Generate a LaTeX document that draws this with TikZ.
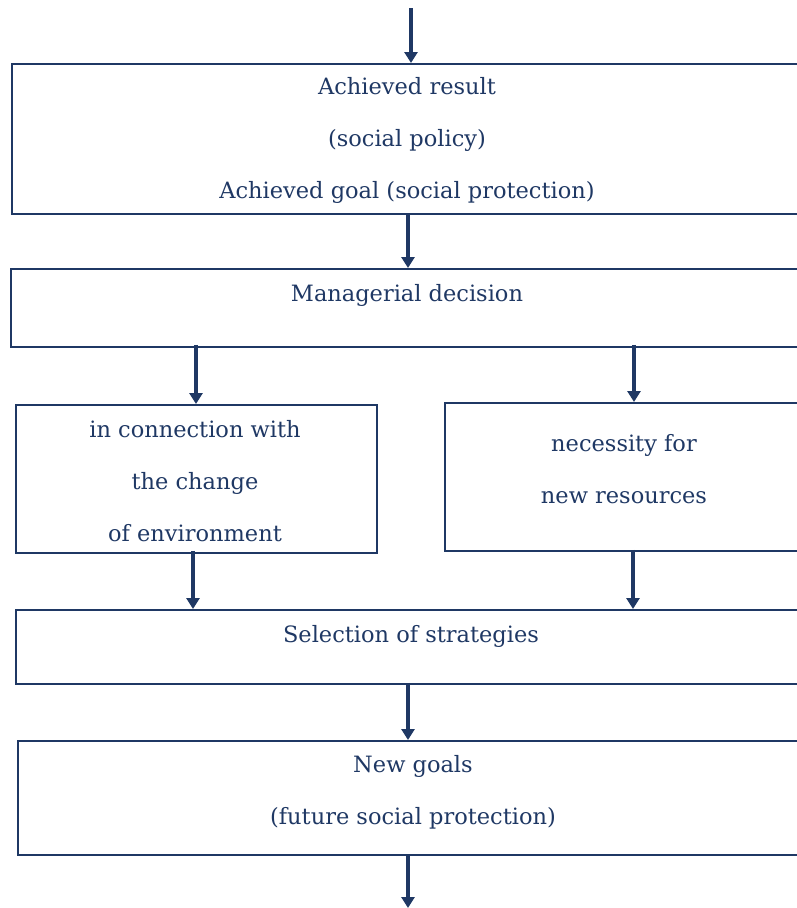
\documentclass[tikz,border=0pt]{standalone}
\usepackage{fontspec}
\setmainfont{DejaVu Serif}
\usetikzlibrary{arrows.meta}
\definecolor{navy}{RGB}{31,56,100}
\begin{document}
\begin{tikzpicture}[x=1pt,y=-1pt,
  box/.style={draw=navy,line width=1.9pt,rectangle,inner sep=0pt,anchor=north west},
  txt/.style={text=navy,align=center,font=\fontsize{22.5}{52}\selectfont,inner sep=0pt},
  arr/.style={draw=navy,line width=3.4pt,-{Triangle[width=13pt,length=11pt]}}]
\useasboundingbox (0,0) rectangle (797,908);
\clip (0,0) rectangle (797,908);
\node[box,minimum width=794pt,minimum height=150pt] (b1) at (11,63) {};
\node[box,minimum width=795pt,minimum height=78pt] (b2) at (10,268) {};
\node[box,minimum width=361pt,minimum height=148pt] (b3) at (15,404) {};
\node[box,minimum width=361pt,minimum height=148pt] (b4) at (444,402) {};
\node[box,minimum width=791pt,minimum height=74pt] (b5) at (15,609) {};
\node[box,minimum width=789pt,minimum height=114pt] (b6) at (17,740) {};
\node[txt] (t1) at (407,140) {Achieved result\\(social policy)\\Achieved goal (social protection)};
\node[txt] (t2) at (407,295) {Managerial decision};
\node[txt] (t3) at (195,481) {in connection with\\the change\\of environment};
\node[txt] (t4) at (624,469) {necessity for\\new resources};
\node[txt] (t5) at (411,636) {Selection of strategies};
\node[txt] (t6) at (413,792) {New goals\\(future social protection)};
\coordinate (top) at (411,8);
\coordinate (bot) at (408,908);
\coordinate (xa) at (408,0);
\coordinate (xb) at (196,0);
\coordinate (xc) at (634,0);
\coordinate (xd) at (193,0);
\coordinate (xe) at (633,0);
\draw[arr] (top) -- (b1.north -| top);
\draw[arr] ([yshift=1pt]b1.south -| xa) -- (b2.north -| xa);
\draw[arr] ([yshift=3pt]b2.south -| xb) -- (b3.north -| xb);
\draw[arr] ([yshift=3pt]b2.south -| xc) -- (b4.north -| xc);
\draw[arr] ([yshift=3pt]b3.south -| xd) -- (b5.north -| xd);
\draw[arr] ([yshift=2pt]b4.south -| xe) -- (b5.north -| xe);
\draw[arr] ([yshift=2pt]b5.south -| xa) -- (b6.north -| xa);
\draw[arr] ([yshift=1pt]b6.south -| xa) -- (bot);
\end{tikzpicture}
\end{document}
